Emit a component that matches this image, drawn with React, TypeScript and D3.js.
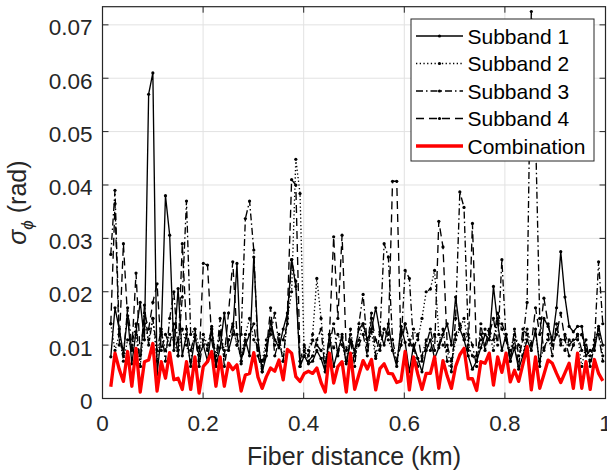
import React from 'react';
import * as d3 from 'd3';

const W = 607;
const H = 471;

// Fiber-distance sampling grid (km)
const N_SAMPLES = 118;
const DIST_START = 0.0165;
const DIST_STEP = 0.00836;
const distances: number[] = d3.range(N_SAMPLES).map((i) => DIST_START + i * DIST_STEP);

// sigma_phi values in units of 1e-3 rad
const subband1 = [
  7.8, 17, 13, 8.5, 15.5, 6.5, 12.5, 18, 11, 57,
  61, 4.5, 12, 38, 30.6, 9, 20.6, 8, 12, 6,
  11.5, 8, 10, 7, 13, 6, 9.5, 16, 9, 12,
  25.3, 7, 11, 8, 26.5, 11, 5, 8, 14.5, 11,
  9.5, 13, 16, 26, 21, 6, 8, 6.5, 7, 9,
  7.5, 5, 12, 6, 9, 11.5, 6.5, 10.5, 9, 13,
  14, 11, 13, 17, 12.5, 10, 14, 9, 6, 13.5,
  10.5, 5, 10, 7.5, 5, 9, 11, 7.5, 9.5, 12,
  14, 10, 19, 13, 11, 8, 5.5, 7, 9.5, 12,
  11, 21, 14, 9, 12, 7, 9.5, 5.5, 8, 11,
  9, 13, 6, 15, 13.5, 11, 17, 27.5, 19, 13.5,
  12.5, 13.5, 13.5, 8, 9, 9, 13.5, 10,
];
const subband2 = [
  14, 9, 12, 7, 11, 9.5, 12, 6, 14, 11,
  15, 7, 12.5, 9, 12, 11, 8, 13, 10, 7,
  13, 9.5, 12, 10, 13, 8, 12.5, 9, 11, 13.5,
  10, 8, 12, 15, 11, 9.5, 7, 11, 13, 10,
  12, 7, 15, 20, 44.8, 38.4, 8, 9, 12, 22.5,
  15, 7, 11, 9.5, 12, 10, 7, 13, 8, 11,
  14, 9, 12.5, 7.5, 10, 13, 11, 9, 7, 12,
  14, 10, 13, 11, 15, 20, 20.5, 24, 12, 10,
  9, 6, 11, 13, 15, 10, 8, 7, 11, 13,
  12.5, 9, 15, 13, 11, 9, 12, 10, 8, 13,
  10, 12, 7, 9.5, 11, 10, 13, 11, 9, 11,
  10, 12, 6, 10, 7, 11, 13, 8,
];
const subband3 = [
  27, 39, 12, 8, 17, 10, 14, 6, 17.5, 10,
  15, 9, 13, 7, 15, 20, 9, 19, 37, 12,
  13, 6, 11, 9, 13.5, 7, 15, 6, 11, 14,
  10, 12, 33.7, 37, 27.8, 9, 6, 10, 12, 16,
  10, 11, 14, 26, 22, 6, 9, 7, 8, 11,
  13, 5, 10, 14, 8, 12, 7, 11, 6, 14,
  19.5, 10, 16, 8, 12, 29, 26.5, 11, 7, 10,
  24, 22.5, 10, 6, 8, 11, 9, 12, 10, 13,
  7, 5, 15, 38.7, 35.8, 12, 10, 6, 14, 9,
  12, 15, 10, 26, 11, 7, 13, 8, 11, 18,
  72.5, 50, 15, 9, 12, 8, 14, 10, 12, 10,
  11, 11, 12, 9, 8, 10, 25.6, 14,
];
const subband4 = [
  14, 36.5, 10, 29, 15, 9, 23.5, 8, 16, 13,
  18, 21.5, 9, 12, 10, 14, 8, 29, 13, 9,
  12, 7, 25.3, 25, 11, 6, 12, 8, 16, 25.6,
  12, 6.5, 10, 12, 14, 8, 5, 9, 17, 8,
  11, 7, 16, 41, 40, 7, 10, 8, 11, 10,
  9, 6, 12, 30.3, 15, 30.6, 9, 12, 8, 10,
  12, 8, 15, 11, 9, 13, 12, 40.7, 40.7, 10,
  14, 11, 9, 12, 7, 10, 13, 9, 33.2, 28.4,
  10, 7, 12, 14, 12, 9, 32.8, 8, 12, 10,
  13, 11, 16, 14, 12, 8, 11, 6, 13, 12,
  10, 17, 12, 18.8, 14, 10, 12, 16, 11, 8,
  10, 12, 9, 11, 6, 10, 12, 7,
];
const combination = [
  2.2, 8.5, 5.5, 3.2, 8.8, 2.3, 9.4, 1.2, 6.9, 7.2,
  10.3, 1.4, 6.9, 3.8, 8.6, 3.5, 3.8, 1.7, 6.9, 1.7,
  7.8, 1.0, 6.0, 6.9, 8.8, 2.3, 7.8, 2.3, 6.6, 5.4,
  6.3, 1.4, 4.4, 4.7, 8.6, 4.0, 1.9, 4.1, 5.7, 5.1,
  7.2, 3.5, 9.2, 8.5, 4.1, 3.2, 4.7, 5.1, 4.7, 5.7,
  3.0, 1.2, 8.5, 2.9, 6.0, 6.9, 1.2, 8.5, 1.7, 4.5,
  7.1, 5.5, 7.3, 1.6, 5.6, 6.5, 4.7, 4.6, 3.0, 3.3,
  8.8, 1.6, 7.8, 4.6, 1.7, 4.7, 4.7, 7.8, 1.9, 7.1,
  4.2, 1.9, 6.0, 8.2, 9.4, 3.7, 3.7, 1.5, 6.9, 6.6,
  8.5, 2.5, 7.8, 4.9, 8.5, 3.1, 5.3, 3.2, 6.4, 9.7,
  1.6, 7.8, 1.9, 4.5, 7.2, 6.6, 4.7, 3.0, 4.8, 6.6,
  1.9, 8.5, 1.9, 6.9, 1.7, 7.3, 4.7, 3.3,
];
const VALUE_UNIT = 1e-3; // rad

const seriesNames = ['Subband 1', 'Subband 2', 'Subband 3', 'Subband 4', 'Combination'];
const seriesValues = [subband1, subband2, subband3, subband4, combination];

const xTicks = [0, 0.2, 0.4, 0.6, 0.8, 1];
const xTickLabels = ['0', '0.2', '0.4', '0.6', '0.8', '1'];
const yTicks = [0, 0.01, 0.02, 0.03, 0.04, 0.05, 0.06, 0.07];
const yTickLabels = ['0', '0.01', '0.02', '0.03', '0.04', '0.05', '0.06', '0.07'];
const X_DOMAIN = [0, 1];
const Y_DOMAIN = [0, 0.0734];

const FONT = '"Liberation Sans", Arial, Helvetica, sans-serif';
const AXIS_COLOR = '#262626';

const styles = [
  { stroke: '#000', width: 1.35, dash: undefined as string | undefined, markers: true },
  { stroke: '#000', width: 1.35, dash: '1.3,2.4', markers: true },
  { stroke: '#000', width: 1.35, dash: '7,3,1.5,3', markers: true },
  { stroke: '#000', width: 1.35, dash: '8,5', markers: true },
  { stroke: '#ff0000', width: 3.3, dash: undefined as string | undefined, markers: false },
];

export default function App() {
  const L = 102.5, R = 605.5, T = 6.7, B = 398.5;
  const x = d3.scaleLinear().domain(X_DOMAIN).range([L, R]);
  const y = d3.scaleLinear().domain(Y_DOMAIN).range([B, T]);
  const line = d3
    .line<number>()
    .x((_, i) => x(distances[i]))
    .y((v) => y(v * VALUE_UNIT));
  const tickLen = 6;

  const legendX = 411, legendY = 19, legendW = 183, legendH = 142;
  const rowYs = [36, 63.5, 91, 118.5, 146];

  return (
    <svg
      width={W}
      height={H}
      viewBox={`0 0 ${W} ${H}`}
      style={{ position: 'absolute', left: 0, top: 0, background: '#fff' }}
      fontFamily={FONT}
    >
      <rect x={0} y={0} width={W} height={H} fill="#fff" />
      <defs>
        <clipPath id="plotClip">
          <rect x={L} y={T} width={R - L} height={B - T} />
        </clipPath>
      </defs>
      {/* grid */}
      <g stroke="#e2e2e2" strokeWidth={1}>
        {xTicks.map((t) => (
          <line key={'gx' + t} x1={x(t)} x2={x(t)} y1={T} y2={B} />
        ))}
        {yTicks.map((t) => (
          <line key={'gy' + t} x1={L} x2={R} y1={y(t)} y2={y(t)} />
        ))}
      </g>
      {/* data */}
      <g clipPath="url(#plotClip)">
        {seriesValues.map((vals, si) => {
          const st = styles[si];
          return (
            <g key={seriesNames[si]}>
              <path
                d={line(vals) || ''}
                fill="none"
                stroke={st.stroke}
                strokeWidth={st.width}
                strokeDasharray={st.dash}
                strokeLinejoin="round"
              />
              {st.markers &&
                vals.map((v, i) => (
                  <circle key={i} cx={x(distances[i])} cy={y(v * VALUE_UNIT)} r={1.6} fill="#000" />
                ))}
            </g>
          );
        })}
      </g>
      {/* axes box */}
      <rect x={L} y={T} width={R - L} height={B - T} fill="none" stroke={AXIS_COLOR} strokeWidth={1.2} />
      <g stroke={AXIS_COLOR} strokeWidth={1}>
        {xTicks.map((t) => (
          <g key={'tx' + t}>
            <line x1={x(t)} x2={x(t)} y1={B} y2={B - tickLen} />
            <line x1={x(t)} x2={x(t)} y1={T} y2={T + tickLen} />
          </g>
        ))}
        {yTicks.map((t) => (
          <g key={'ty' + t}>
            <line x1={L} x2={L + tickLen} y1={y(t)} y2={y(t)} />
            <line x1={R} x2={R - tickLen} y1={y(t)} y2={y(t)} />
          </g>
        ))}
      </g>
      {/* tick labels */}
      <g fill={AXIS_COLOR} fontSize={22.5}>
        {xTicks.map((t, i) => (
          <text key={'lx' + t} x={x(t)} y={B + 32} textAnchor="middle">
            {xTickLabels[i]}
          </text>
        ))}
        {yTicks.map((t, i) => (
          <text key={'ly' + t} x={L - 10} y={y(t) + 10.5} textAnchor="end">
            {yTickLabels[i]}
          </text>
        ))}
      </g>
      {/* axis labels */}
      <text x={(L + R) / 2} y={465} textAnchor="middle" fontSize={25} fill={AXIS_COLOR}>
        Fiber distance (km)
      </text>
      <text
        transform={`translate(26, ${(T + B) / 2}) rotate(-90)`}
        textAnchor="middle"
        fontSize={25}
        fill={AXIS_COLOR}
      >
        <tspan fontStyle="italic">σ</tspan>
        <tspan fontStyle="italic" fontSize={17} dy={7}>ϕ</tspan>
        <tspan dy={-7}> (rad)</tspan>
      </text>
      {/* legend */}
      <rect x={legendX} y={legendY} width={legendW} height={legendH} fill="#fff" stroke={AXIS_COLOR} strokeWidth={1} />
      {seriesNames.map((name, si) => {
        const st = styles[si];
        const ry = rowYs[si];
        return (
          <g key={'leg' + name}>
            <line
              x1={416}
              x2={463}
              y1={ry}
              y2={ry}
              stroke={st.stroke}
              strokeWidth={st.width}
              strokeDasharray={st.dash}
            />
            {st.markers && <circle cx={439.5} cy={ry} r={1.6} fill="#000" />}
            <text x={467.5} y={ry + 7.5} fontSize={21} fill="#000">
              {name}
            </text>
          </g>
        );
      })}
    </svg>
  );
}
